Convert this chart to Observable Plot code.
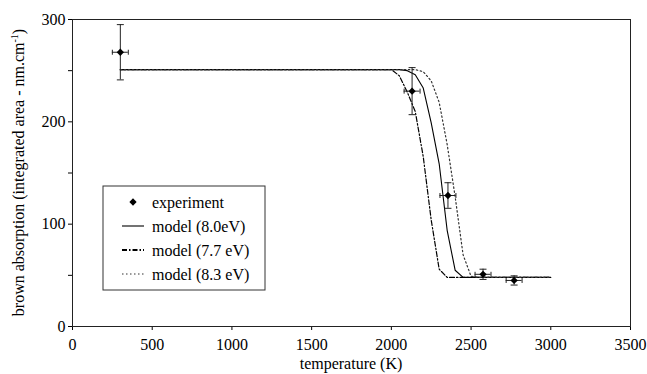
<!DOCTYPE html>
<html>
<head>
<meta charset="utf-8">
<script src="https://cdn.jsdelivr.net/npm/d3@7"></script>
<script src="https://cdn.jsdelivr.net/npm/@observablehq/plot@0.6"></script>
<style>
  html, body { margin: 0; padding: 0; background: #fff; }
  #chart { width: 647px; height: 374px; }
</style>
</head>
<body>
<div id="chart"></div>
<script>
// Measured absorption (experiment) with error bars
const expT = [300, 2130, 2355, 2575, 2770];
const expV = [268, 230, 128, 51, 45];
const expTErr = [50, 50, 50, 50, 50];
const expVErr = [27, 23, 12.5, 5, 4.5];

// Model curves sampled on a shared temperature grid
const modelT = [300, 1000, 1500, 2000, 2050, 2100, 2150, 2200, 2250, 2300, 2350, 2400, 2450, 2500, 2550, 3000];
const model80 = [251, 251, 251, 251, 251, 250, 246, 233, 199, 159, 94, 55, 48, 48, 48, 48];
const model77 = [251, 251, 251, 251, 245, 229, 210, 166, 104, 56, 48, 48, 48, 48, 48, 48];
const model83 = [251, 251, 251, 251, 251, 251, 251, 249, 240, 219, 178, 127, 70, 49, 48, 48];

const xTicks = [0, 500, 1000, 1500, 2000, 2500, 3000, 3500];
const yTicks = [0, 100, 200, 300];
const yMinorTicks = [50, 150, 250];

const seriesNames = ["experiment", "model (8.0eV)", "model (7.7 eV)", "model (8.3 eV)"];

const exp = expT.map((t, i) => ({t, v: expV[i], et: expTErr[i], ev: expVErr[i]}));
const toRows = (vals) => modelT.map((t, i) => ({t, v: vals[i]}));

// error-bar end caps as custom symbols
const hCap = {draw(ctx) { ctx.moveTo(-3.5, 0); ctx.lineTo(3.5, 0); }};
const vCap = {draw(ctx) { ctx.moveTo(0, -2.5); ctx.lineTo(0, 2.5); }};

const styles = {
  solid: {stroke: "#000", strokeWidth: 1.1},
  dashdot: {stroke: "#000", strokeWidth: 1.2, strokeDasharray: "5,2,1.5,2"},
  dotted: {stroke: "#333", strokeWidth: 1.2, strokeDasharray: "1.5,2.5"}
};

const W = 647, H = 374;
const FS = 16;
const font = "'Liberation Serif', 'Times New Roman', serif";

const chart = Plot.plot({
  width: W, height: H,
  marginLeft: 72, marginRight: 17, marginTop: 19, marginBottom: 48,
  style: {fontFamily: font, fontSize: FS + "px", background: "#fff", color: "#000"},
  x: {domain: [0, 3500], label: null},
  y: {domain: [0, 300], label: null},
  marks: [
    Plot.axisX({ticks: xTicks, tickSize: 4, tickPadding: 8, tickFormat: d => String(d), label: null, fontSize: FS}),
    Plot.axisY({ticks: yTicks, tickSize: 4, tickPadding: 3, label: null, fontSize: FS}),
    Plot.axisY({ticks: yMinorTicks, tickSize: 4, tickFormat: () => "", label: null}),
    Plot.frame({stroke: "#222", strokeWidth: 1}),
    Plot.line(toRows(model80), {x: "t", y: "v", ...styles.solid}),
    Plot.line(toRows(model77), {x: "t", y: "v", ...styles.dashdot}),
    Plot.line(toRows(model83), {x: "t", y: "v", ...styles.dotted}),
    // vertical and horizontal error bars
    Plot.ruleX(exp, {x: "t", y1: d => d.v - d.ev, y2: d => d.v + d.ev, stroke: "#222", strokeWidth: 1}),
    Plot.ruleY(exp, {y: "v", x1: d => d.t - d.et, x2: d => d.t + d.et, stroke: "#222", strokeWidth: 1}),
    Plot.dot(exp, {x: "t", y: d => d.v + d.ev, symbol: hCap, stroke: "#222", strokeWidth: 1, r: 3}),
    Plot.dot(exp, {x: "t", y: d => d.v - d.ev, symbol: hCap, stroke: "#222", strokeWidth: 1, r: 3}),
    Plot.dot(exp, {x: d => d.t - d.et, y: "v", symbol: vCap, stroke: "#222", strokeWidth: 1, r: 3}),
    Plot.dot(exp, {x: d => d.t + d.et, y: "v", symbol: vCap, stroke: "#222", strokeWidth: 1, r: 3}),
    Plot.dot(exp, {x: "t", y: "v", symbol: "diamond2", r: 3.3, fill: "#000", stroke: "none"})
  ]
});
document.getElementById("chart").appendChild(chart);

const svg = d3.select(chart);

// x-axis title
svg.append("text")
  .attr("x", (72 + (W - 17)) / 2).attr("y", 369)
  .attr("text-anchor", "middle")
  .attr("font-family", font).attr("font-size", FS).attr("fill", "#000")
  .text("temperature (K)");

// y-axis title with superscript
const yTitle = svg.append("text")
  .attr("transform", `translate(24,${(19 + (H - 48)) / 2}) rotate(-90)`)
  .attr("text-anchor", "middle")
  .attr("font-family", font).attr("font-size", FS).attr("fill", "#000");
yTitle.append("tspan").text("brown absorption (integrated area - nm.cm");
yTitle.append("tspan").attr("font-size", 10).attr("dy", -6).text("-1");
yTitle.append("tspan").attr("dy", 6).text(")");

// legend box
const lg = svg.append("g").attr("transform", "translate(103,186)");
lg.append("rect").attr("width", 162).attr("height", 104)
  .attr("fill", "#fff").attr("stroke", "#333").attr("stroke-width", 1);
const rowY = [16, 40, 64, 88];
const sampleX1 = 19, sampleX2 = 41, textX = 49;
seriesNames.forEach((name, i) => {
  const y = rowY[i];
  if (i === 0) {
    lg.append("path").attr("d", d3.symbol(d3.symbolDiamond2, 34)())
      .attr("transform", `translate(${(sampleX1 + sampleX2) / 2},${y})`).attr("fill", "#000");
  } else {
    const s = [styles.solid, styles.dashdot, styles.dotted][i - 1];
    lg.append("line").attr("x1", sampleX1).attr("x2", sampleX2).attr("y1", y).attr("y2", y)
      .attr("stroke", s.stroke).attr("stroke-width", i === 2 ? 2 : s.strokeWidth)
      .attr("stroke-dasharray", s.strokeDasharray || null);
  }
  lg.append("text").attr("x", textX).attr("y", y).attr("dy", "0.35em")
    .attr("text-anchor", "start")
    .attr("font-family", font).attr("font-size", FS).attr("fill", "#000").text(name);
});
</script>
</body>
</html>
